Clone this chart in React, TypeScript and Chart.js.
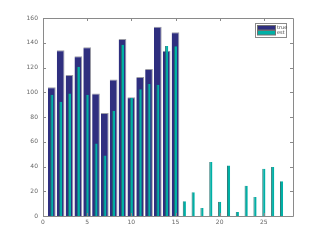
import { useEffect, useRef } from "react";
import { Chart, registerables } from "chart.js";

Chart.register(...registerables);

const seriesLabels = ["true", "est"];
const trueX = [1, 2, 3, 4, 5, 6, 7, 8, 9, 10, 11, 12, 13, 14, 15];
const trueValues = [104, 134, 114, 129, 136.3, 99, 83.2, 110.4, 143, 96, 112.3, 118.8, 153, 133.6, 148.4];
const estX = [1, 2, 3, 4, 5, 6, 7, 8, 9, 10, 11, 12, 13, 14, 15, 16, 17, 18, 19, 20, 21, 22, 23, 24, 25, 26, 27];
const estValues = [98, 92.4, 98.9, 120.7, 98, 58.5, 48.8, 85.1, 138.4, 95.4, 102.4, 106.7, 106.1, 137.4, 137.1, 11.9, 19.1, 6.5, 43.6, 11.6, 40.9, 3.2, 24.5, 15.4, 38.2, 39.6, 28];
const xTickValues = [0, 5, 10, 15, 20, 25];
const yTickValues = [0, 20, 40, 60, 80, 100, 120, 140, 160];

const trueColor = "#2f2f7f";
const estColor = "#00b0a6";

const framePlugin = {
  id: "matlabFrame",
  afterDatasetsDraw(chart: any) {
    const { ctx, chartArea } = chart;
    const { left, right, top, bottom } = chartArea;
    const xs = chart.scales.x;
    const ys = chart.scales.y;
    ctx.save();
    ctx.strokeStyle = "#8a8a8a";
    ctx.lineWidth = 1;
    ctx.beginPath();
    ctx.rect(Math.round(left) + 0.5, Math.round(top) + 0.5, Math.round(right - left), Math.round(bottom - top));
    ctx.stroke();
    ctx.beginPath();
    const tl = 3;
    for (const v of xTickValues) {
      const px = Math.round(xs.getPixelForValue(v)) + 0.5;
      ctx.moveTo(px, bottom);
      ctx.lineTo(px, bottom - tl);
      ctx.moveTo(px, top);
      ctx.lineTo(px, top + tl);
    }
    for (const v of yTickValues) {
      const py = Math.round(ys.getPixelForValue(v)) + 0.5;
      ctx.moveTo(left, py);
      ctx.lineTo(left + tl, py);
      ctx.moveTo(right, py);
      ctx.lineTo(right - tl, py);
    }
    ctx.stroke();

    // legend box inside plot area (top-right)
    const bw = 31;
    const bh = 14;
    const bx = Math.round(right - 7 - bw) + 0.5;
    const by = Math.round(top + 5) + 0.5;
    ctx.fillStyle = "#ffffff";
    ctx.fillRect(bx, by, bw, bh);
    ctx.strokeStyle = "#8a8a8a";
    ctx.strokeRect(bx, by, bw, bh);
    const colors = [trueColor, estColor];
    ctx.font = "5px 'DejaVu Sans', sans-serif";
    ctx.textBaseline = "middle";
    ctx.textAlign = "left";
    seriesLabels.forEach((lab, i) => {
      const sy = by + 2 + i * 5;
      ctx.fillStyle = colors[i];
      ctx.fillRect(bx + 2, sy, 18, 4.5);
      ctx.strokeStyle = "#707070";
      ctx.strokeRect(bx + 2, sy, 18, 4.5);
      ctx.fillStyle = "#444444";
      ctx.fillText(lab, bx + 21.5, sy + 2.5);
    });
    ctx.restore();
  },
};

export default function App() {
  const ref = useRef<HTMLCanvasElement | null>(null);
  useEffect(() => {
    if (!ref.current) return;
    const chart = new Chart(ref.current, {
      type: "bar",
      data: {
        datasets: [
          {
            label: seriesLabels[0],
            data: trueX.map((x, i) => ({ x, y: trueValues[i] })),
            backgroundColor: trueColor,
            borderColor: "#9c9ca6",
            borderWidth: { top: 1, right: 1, left: 0, bottom: 0 },
            borderSkipped: false,
            barPercentage: 0.87,
            categoryPercentage: 1,
            grouped: false,
            order: 1,
          },
          {
            label: seriesLabels[1],
            data: estX.map((x, i) => ({ x, y: estValues[i] })),
            backgroundColor: estColor,
            borderColor: "#1f6e6c",
            borderWidth: { top: 0, right: 0, left: 1, bottom: 0 },
            borderSkipped: false,
            barPercentage: 0.36,
            categoryPercentage: 1,
            grouped: false,
            order: 0,
          },
        ],
      },
      options: {
        animation: false,
        responsive: true,
        maintainAspectRatio: false,
        layout: { padding: { top: 18, right: 31, left: 0, bottom: 0 } },
        plugins: {
          legend: { display: false },
          tooltip: { enabled: false },
        },
        scales: {
          x: {
            type: "linear",
            offset: false,
            min: 0,
            max: 28.3,
            grid: { display: false, drawTicks: false, offset: false },
            border: { display: false },
            afterFit: (s: any) => {
              s.height = 27;
            },
            afterBuildTicks: (s: any) => {
              s.ticks = xTickValues.map((v) => ({ value: v }));
            },
            ticks: {
              includeBounds: false,
              padding: 3,
              color: "#666666",
              font: { size: 6, family: "'DejaVu Sans', sans-serif" },
              maxRotation: 0,
              autoSkip: false,
            },
          },
          y: {
            min: 0,
            max: 160,
            grid: { display: false, drawTicks: false },
            border: { display: false },
            afterFit: (s: any) => {
              s.width = 43;
            },
            afterBuildTicks: (s: any) => {
              s.ticks = yTickValues.map((v) => ({ value: v }));
            },
            ticks: {
              padding: 5,
              color: "#666666",
              font: { size: 6, family: "'DejaVu Sans', sans-serif" },
              autoSkip: false,
            },
          },
        },
      },
      plugins: [framePlugin],
    });
    return () => chart.destroy();
  }, []);
  return (
    <div style={{ position: "fixed", left: 0, top: 0, width: 324, height: 243, background: "#ffffff" }}>
      <canvas ref={ref} />
    </div>
  );
}
